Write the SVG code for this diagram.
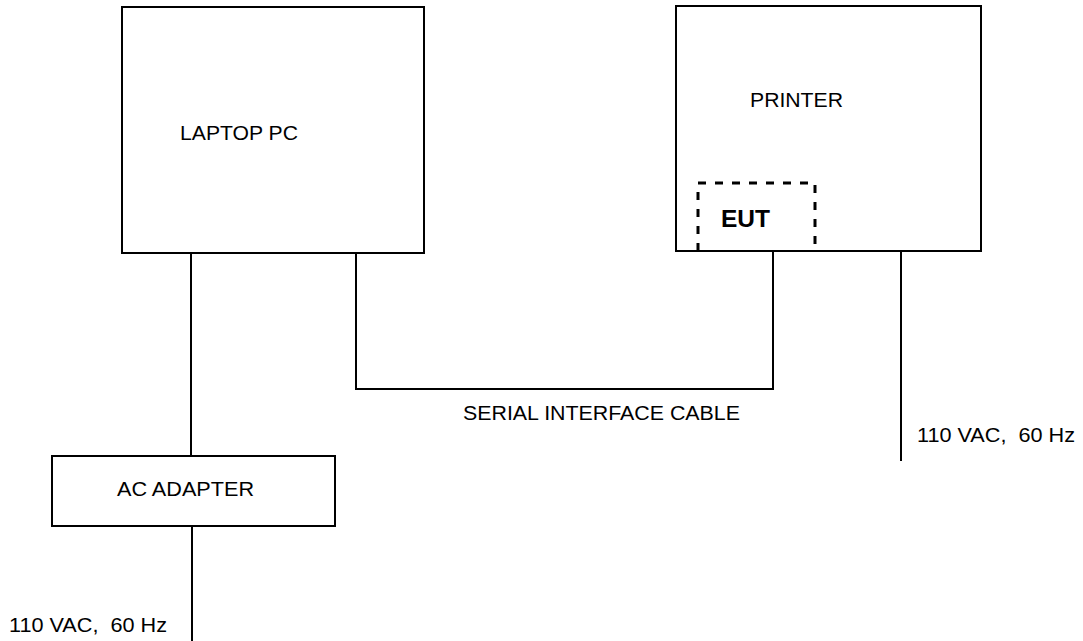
<svg xmlns="http://www.w3.org/2000/svg" width="1083" height="641" viewBox="0 0 1083 641">
<style>
.box{fill:none;stroke:#000;stroke-width:2}
.ln{fill:none;stroke:#000;stroke-width:2}
.dash{fill:none;stroke:#000;stroke-width:3;stroke-dasharray:8 9}
.t{font-family:"Liberation Sans",Arial,sans-serif;font-size:20px;fill:#000}
.b{font-family:"Liberation Sans",Arial,sans-serif;font-size:23px;font-weight:bold;fill:#000}
</style>
<rect width="1083" height="641" fill="#fff"/>
<g id="laptop">
<rect class="box" x="122" y="7" width="302" height="246"/>
<text class="t" x="180" y="140" textLength="118" lengthAdjust="spacingAndGlyphs">LAPTOP PC</text>
</g>
<g id="printer">
<rect class="box" x="676" y="6" width="305" height="245"/>
<text class="t" x="750" y="107" textLength="93" lengthAdjust="spacingAndGlyphs">PRINTER</text>
</g>
<g id="eut">
<path class="dash" d="M698 251 V183 H815 V251"/>
<text class="b" x="721" y="227" textLength="49" lengthAdjust="spacingAndGlyphs">EUT</text>
</g>
<g id="adapter">
<rect class="box" x="52" y="456" width="283" height="70"/>
<text class="t" x="117" y="496" textLength="137" lengthAdjust="spacingAndGlyphs">AC ADAPTER</text>
</g>
<g id="connectors">
<line class="ln" x1="191" y1="253" x2="191" y2="456"/>
<line class="ln" x1="192" y1="526" x2="192" y2="641"/>
<path class="ln" d="M356 253 V389 H773 V251"/>
<line class="ln" x1="901" y1="251" x2="901" y2="461"/>
</g>
<g id="labels">
<text class="t" x="463" y="420" textLength="277" lengthAdjust="spacingAndGlyphs">SERIAL INTERFACE CABLE</text>
<text class="t" x="917" y="442" textLength="158" lengthAdjust="spacingAndGlyphs">110 VAC,&#160; 60 Hz</text>
<text class="t" x="9" y="632" textLength="158" lengthAdjust="spacingAndGlyphs">110 VAC,&#160; 60 Hz</text>
</g>
</svg>
